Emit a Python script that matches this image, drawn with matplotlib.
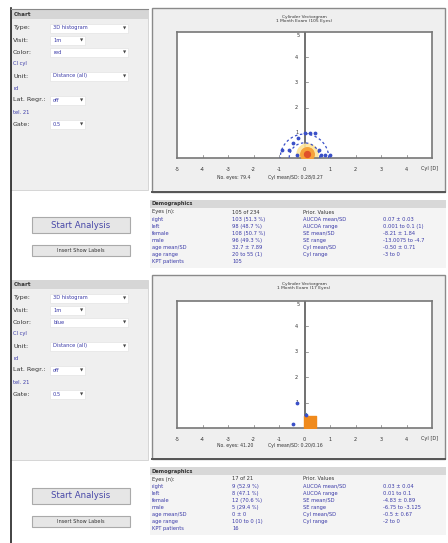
import numpy as np
import matplotlib
matplotlib.use("Agg")
import matplotlib.pyplot as plt
from matplotlib.patches import Rectangle

plt.rcParams['font.family'] = ['DejaVu Sans']

W, H = 448, 543
BLUE = "#3a3aa8"
DARK = "#333333"

# left "Chart" panel rows
chart_labels = ["Type:", "Visit:", "Color:", "Cl cyl", "Unit:", "rd", "Lat. Regr.:", "tel. 21", "Gate:"]
chart_values_1 = ["3D histogram", "1m", "red", "", "Distance (all)", "", "off", "", "0.5"]
chart_values_2 = ["3D histogram", "1m", "blue", "", "Distance (all)", "", "off", "", "0.5"]
blue_rows = [3, 5, 7]
box_widths = [78, 35, 78, 0, 78, 0, 35, 0, 35]

# demographics tables
demo_labels = ["Eyes (n):", "right", "left", "female", "male", "age mean/SD", "age range", "KPT patients"]
demo_values_1 = ["105 of 234", "103 (51.3 %)", "98 (48.7 %)", "108 (50.7 %)", "96 (49.3 %)",
                 "32.7 \u00b1 7.89", "20 to 55 (1)", "105"]
demo_values_2 = ["17 of 21", "9 (52.9 %)", "8 (47.1 %)", "12 (70.6 %)", "5 (29.4 %)",
                 "0 \u00b1 0", "100 to 0 (1)", "16"]
prior_labels = ["Prior. Values", "AUCOA mean/SD", "AUCOA range", "SE mean/SD", "SE range",
                "Cyl mean/SD", "Cyl range"]
prior_values_1 = ["", "0.07 \u00b1 0.03", "0.001 to 0.1 (1)", "-8.21 \u00b1 1.84", "-13.0075 to -4.7",
                  "-0.50 \u00b1 0.71", "-3 to 0"]
prior_values_2 = ["", "0.03 \u00b1 0.04", "0.01 to 0.1", "-4.83 \u00b1 0.89", "-6.75 to -3.125",
                  "-0.5 \u00b1 0.67", "-2 to 0"]

# vectorgram data (x = cyl component, y = count)
top_x = [-0.9, -0.6, -0.45, -0.25, 0.0, 0.2, 0.4, 0.55, 0.65, 0.8, 1.0, -0.3]
top_y = [0.3, 0.3, 0.6, 0.8, 1.0, 1.0, 1.0, 0.3, 0.1, 0.1, 0.1, 0.1]
top_centre = (0.1, 0.15)
top_rings = [0.6, 0.95]
bot_x = [-0.45, -0.3, 0.05]
bot_y = [0.15, 1.0, 0.5]
bot_centre = (0.2, 0.22)
titles = ["Cylinder Vectorgram\n1 Month Exam (105 Eyes)", "Cylinder Vectorgram\n1 Month Exam (17 Eyes)"]
foot_n = ["No. eyes: 79.4", "No. eyes: 41.20"]
foot_cyl = ["Cyl mean/SD: 0.28/0.27", "Cyl mean/SD: 0.20/0.16"]

fig = plt.figure(figsize=(W / 100, H / 100), dpi=100)
fig.patch.set_facecolor("white")
ui = fig.add_axes([0, 0, 1, 1])
ui.set_xlim(0, W)
ui.set_ylim(H, 0)
ui.axis("off")

fs = 3.7


def chart_panel(top, values):
    ui.add_patch(Rectangle((11, top), 137, 180, facecolor="#efefef", edgecolor="#d0d0d0", lw=0.6))
    ui.add_patch(Rectangle((11, top), 137, 9, facecolor="#d6d6d6", edgecolor="none"))
    ui.text(14, top + 4.5, "Chart", fontsize=fs + 0.4, color=DARK, va="center", weight="bold")
    for i, lab in enumerate(chart_labels):
        y = top + 18 + i * 12
        if i in blue_rows:
            ui.text(13, y, lab, fontsize=fs, color=BLUE, va="center")
            continue
        ui.text(13, y, lab, fontsize=fs + 0.9, color=DARK, va="center")
        bw = box_widths[i]
        ui.add_patch(Rectangle((50, y - 4.5), bw, 9, facecolor="white", edgecolor="#e4e4e4", lw=0.5))
        ui.text(53, y, values[i], fontsize=fs, color=BLUE, va="center")
        ui.text(50 + bw - 3, y, "\u25bc", fontsize=3, color="#444444", va="center", ha="center")


def buttons(top):
    ui.add_patch(Rectangle((32, top), 98, 16, facecolor="#e6e6e6", edgecolor="#aaaaaa", lw=0.8))
    ui.text(81, top + 8, "Start Analysis", fontsize=6.2, color="#4848a8", ha="center", va="center")
    ui.add_patch(Rectangle((32, top + 28), 98, 11, facecolor="#e6e6e6", edgecolor="#aaaaaa", lw=0.8))
    ui.text(81, top + 33.5, "Insert Show Labels", fontsize=3.6, color=DARK, ha="center", va="center")


def demographics(top, values, pvalues):
    ui.add_patch(Rectangle((150, top), 296, 68, facecolor="#f4f4f4", edgecolor="none"))
    ui.add_patch(Rectangle((150, top), 296, 8, facecolor="#d8d8d8", edgecolor="none"))
    ui.text(152, top + 4, "Demographics", fontsize=fs, color=DARK, va="center", weight="bold")
    for i, lab in enumerate(demo_labels):
        y = top + 12 + i * 7.1
        c = DARK if i == 0 else BLUE
        ui.text(152, y, lab, fontsize=fs, color=c, va="center")
        ui.text(232, y, values[i], fontsize=fs, color=c, va="center")
    for i, lab in enumerate(prior_labels):
        y = top + 12 + i * 7.1
        c = DARK if i == 0 else BLUE
        ui.text(303, y, lab, fontsize=fs, color=c, va="center")
        ui.text(383, y, pvalues[i], fontsize=fs, color=BLUE, va="center")


def plot_panel(top, idx):
    ui.add_patch(Rectangle((152, top), 293, 184, facecolor="#efefef", edgecolor="#8a8a8a", lw=1.0))
    ui.plot([152, 445], [top + 184, top + 184], color="#555555", lw=1.4)
    ui.text(304, top + 11, titles[idx], fontsize=3.2, color=DARK, ha="center", va="center",
            linespacing=0.9)
    ui.text(217, top + 170, foot_n[idx], fontsize=3.3, color=DARK, va="center")
    ui.text(268, top + 170, foot_cyl[idx], fontsize=3.3, color=DARK, va="center")


chart_panel(10, chart_values_1)
chart_panel(280, chart_values_2)
buttons(217)
buttons(488)
plot_panel(8, 0)
plot_panel(275, 1)
demographics(200, demo_values_1, prior_values_1)
demographics(467, demo_values_2, prior_values_2)
ui.plot([11, 11], [8, H], color="#222222", lw=1.2)
ui.plot([11, 148], [9, 9], color="#888888", lw=0.8)


def vectorgram(rect, xs, ys, centre, rings, halo):
    ax = fig.add_axes(rect)
    ax.set_xlim(-5, 5)
    ax.set_ylim(0, 5)
    ax.set_facecolor("white")
    for s in ax.spines.values():
        s.set_color("#777777")
        s.set_linewidth(1.2)
    ax.axvline(0, color="#666666", lw=1.3)
    ax.set_xticks([])
    ax.set_yticks([])
    for t in range(1, 5):
        ax.text(-0.25, t, str(t), fontsize=3.6, ha="right", va="center", color=DARK)
        ax.plot([0, 0.12], [t, t], color="#777777", lw=0.5)
    ax.text(-0.2, 4.95, "5", fontsize=3.6, ha="right", va="top", color=DARK)
    for t in range(-4, 5):
        if t != 0:
            ax.plot([t, t], [0, 0.1], color="#777777", lw=0.5)
    for t in range(-5, 5):
        ax.text(t, -0.35, str(t), fontsize=3.6, ha="center", va="top", color=DARK, clip_on=False)
    ax.text(4.55, -0.3, "Cyl [D]", fontsize=3.6, ha="left", va="top", color=DARK, clip_on=False)
    if halo:
        ax.scatter([centre[0]], [centre[1]], s=230, color="#fde49a", alpha=0.9, zorder=2)
        ax.scatter([centre[0]], [centre[1]], s=95, color="#f5a23a", zorder=3)
        ax.scatter([centre[0]], [centre[1]], s=18, color="#e0502a", zorder=4)
    else:
        ax.scatter([centre[0]], [centre[1]], s=85, color="#f08a1c", marker="s", zorder=3)
    th = np.linspace(0, np.pi, 60)
    for r in rings:
        ax.plot(r * np.cos(th), r * np.sin(th), color="#3a50c8", lw=0.9,
                ls=(0, (2, 2)), zorder=3)
    ax.scatter(xs, ys, s=3, color="#3a50c8", zorder=4)
    return ax


vectorgram([177 / W, 1 - 158 / H, 255 / W, 126 / H], top_x, top_y, top_centre, top_rings, True)
ax2 = vectorgram([177 / W, 1 - 428 / H, 255 / W, 127 / H], bot_x, bot_y, bot_centre, [], False)
ax2.plot([0.05, 0.05], [0.1, 0.6], color="#3a9ab0", lw=0.8)

fig.savefig("out.png", dpi=100)
